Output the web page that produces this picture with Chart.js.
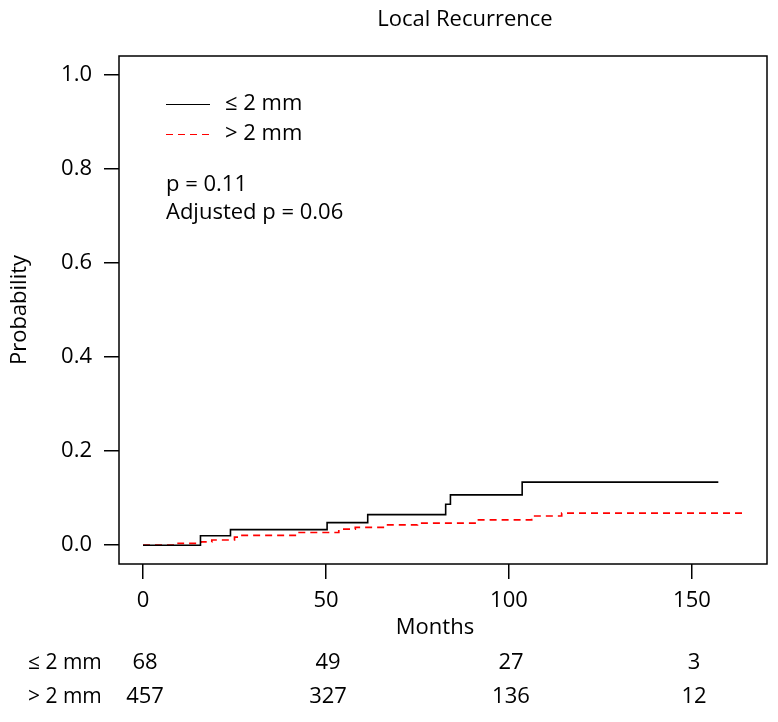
<!DOCTYPE html>
<html>
<head>
<meta charset="utf-8">
<script src="https://cdn.jsdelivr.net/npm/chart.js@4.4.1/dist/chart.umd.min.js"></script>
<style>
html, body { margin: 0; padding: 0; background: #fff; }
canvas { display: block; }
</style>
</head>
<body>
<canvas id="chart" width="778" height="722"></canvas>
<script>
// step curves (months, cumulative probability)
const shortTimes = [0, 15.7, 23.9, 50.3, 61.4, 82.7, 84.0, 103.6, 157.2];
const shortProb = [0, 0.020, 0.033, 0.048, 0.065, 0.087, 0.107, 0.134, 0.134];

const longTimes = [0, 9.6, 15.8, 18.8, 25.0, 26.5, 42.0, 53.5, 58.0, 66.0, 75.0, 91.2, 106.2, 114.4, 164.2];
const longProb = [0, 0.004, 0.007, 0.011, 0.017, 0.021, 0.027, 0.034, 0.038, 0.043, 0.047, 0.054, 0.062, 0.068, 0.068];

const xTicks = [0, 50, 100, 150];
const yTicks = [0, 0.2, 0.4, 0.6, 0.8, 1.0];

const groups = ["≤ 2 mm", "> 2 mm"];
const riskShort = [68, 49, 27, 3];
const riskLong = [457, 327, 136, 12];

const FONT = "'Open Sans', sans-serif";

function points(t, p) {
    return t.map((x, i) => ({ x: x, y: p[i] }));
}

const overlay = {
    id: "overlay",
    afterDraw(chart) {
        const ctx = chart.ctx;
        const a = chart.chartArea;
        const xs = chart.scales.x;

        ctx.save();

        // box round the plot
        ctx.strokeStyle = "#000";
        ctx.lineWidth = 1.5;
        ctx.strokeRect(a.left, a.top, a.right - a.left, a.bottom - a.top);

        ctx.fillStyle = "#000";
        ctx.textBaseline = "middle";

        // title
        ctx.font = "22px " + FONT;
        ctx.textAlign = "center";
        ctx.fillText("Local Recurrence", 465, 20);

        // axis titles
        ctx.fillText("Months", 435, 628);
        ctx.save();
        ctx.translate(20, 310);
        ctx.rotate(-Math.PI / 2);
        ctx.fillText("Probability", 0, 0);
        ctx.restore();

        // legend
        ctx.lineWidth = 1.2;
        ctx.strokeStyle = "#000";
        ctx.beginPath();
        ctx.moveTo(166, 104.5);
        ctx.lineTo(210, 104.5);
        ctx.stroke();
        ctx.strokeStyle = "#ff0000";
        ctx.setLineDash([7, 5]);
        ctx.beginPath();
        ctx.moveTo(166, 134.5);
        ctx.lineTo(210, 134.5);
        ctx.stroke();
        ctx.setLineDash([]);

        ctx.textAlign = "left";
        ctx.fillText(groups[0], 225, 104);
        ctx.fillText(groups[1], 225, 134);
        ctx.fillText("p = 0.11", 166, 185);
        ctx.fillText("Adjusted p = 0.06", 166, 213);

        // numbers at risk
        ctx.font = "21px " + FONT;
        ctx.fillText(groups[0], 28, 663);
        ctx.fillText(groups[1], 28, 697);
        ctx.font = "22px " + FONT;
        ctx.textAlign = "center";
        xTicks.forEach((t, i) => {
            const px = xs.getPixelForValue(t);
            ctx.fillText(String(riskShort[i]), px + 2, 663);
            ctx.fillText(String(riskLong[i]), px + 2, 697);
        });

        ctx.restore();
    }
};

new Chart(document.getElementById("chart"), {
    type: "line",
    data: {
        datasets: [
            {
                label: groups[0],
                data: points(shortTimes, shortProb),
                borderColor: "#000",
                borderWidth: 1.6,
                stepped: "before",
                pointRadius: 0,
                fill: false
            },
            {
                label: groups[1],
                data: points(longTimes, longProb),
                borderColor: "#ff0000",
                borderWidth: 1.7,
                borderDash: [7, 5],
                stepped: "before",
                pointRadius: 0,
                fill: false
            }
        ]
    },
    options: {
        responsive: false,
        animation: false,
        layout: {
            padding: { top: 56, right: 11, left: 0, bottom: 0 }
        },
        plugins: {
            legend: { display: false },
            title: { display: false },
            tooltip: { enabled: false }
        },
        scales: {
            x: {
                type: "linear",
                min: -6.56,
                max: 170.5,
                afterBuildTicks: s => { s.ticks = xTicks.map(v => ({ value: v })); },
                afterFit: s => { s.height = 158; },
                grid: {
                    drawOnChartArea: false,
                    drawTicks: true,
                    tickLength: 15,
                    color: "#000",
                    lineWidth: 1.5
                },
                border: { display: false },
                ticks: {
                    color: "#000",
                    font: { family: FONT, size: 22 },
                    padding: 9,
                    maxRotation: 0,
                    callback: v => String(v)
                }
            },
            y: {
                type: "linear",
                min: -0.04,
                max: 1.04,
                afterBuildTicks: s => { s.ticks = yTicks.map(v => ({ value: v })); },
                afterFit: s => { s.width = 119; },
                grid: {
                    drawOnChartArea: false,
                    drawTicks: true,
                    tickLength: 15,
                    color: "#000",
                    lineWidth: 1.5
                },
                border: { display: false },
                ticks: {
                    color: "#000",
                    font: { family: FONT, size: 22 },
                    padding: 12,
                    callback: v => v.toFixed(1)
                }
            }
        }
    },
    plugins: [overlay]
});
</script>
</body>
</html>
